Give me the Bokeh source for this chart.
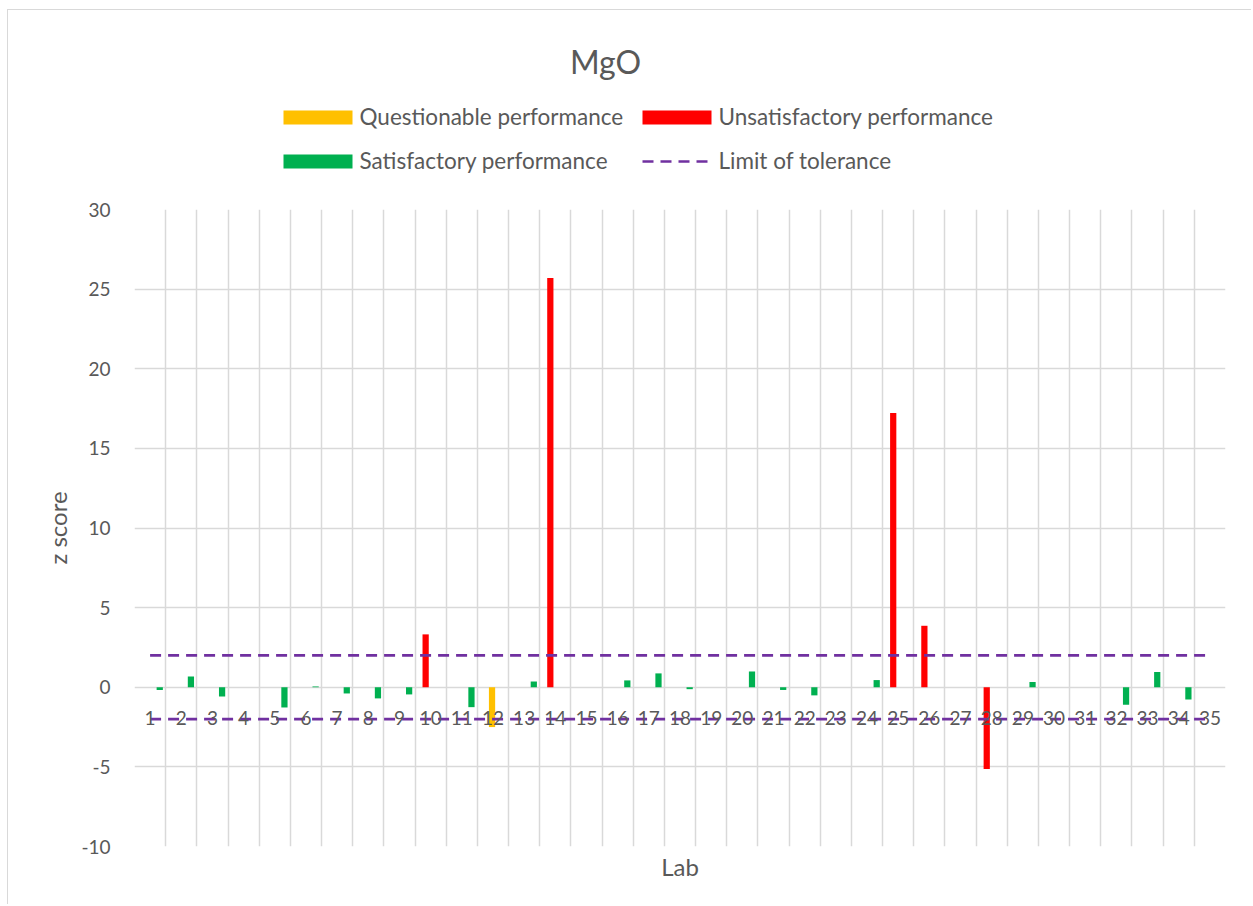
import math
from bokeh.plotting import figure
from bokeh.layouts import column
from bokeh.models import (FixedTicker, Title, ColumnDataSource, Label, Range1d)
from bokeh.core.properties import value
from bokeh.transform import dodge
from bokeh.embed import file_html
from bokeh.resources import INLINE

nan = float("nan")

chart_title = "MgO"
x_title = "Lab"
y_title = "z score"

labs = [str(i) for i in range(1, 36)]

satisfactory = [-0.17, 0.68, -0.58, nan, -1.27, 0.05, -0.39, -0.70, -0.45, nan,
                -1.25, nan, 0.36, nan, nan, 0.43, 0.87, -0.12, nan, 0.99,
                -0.17, -0.51, nan, 0.45, nan, nan, nan, nan, 0.33, nan,
                nan, -1.10, 0.95, -0.77, nan]
questionable = [nan, nan, nan, nan, nan, nan, nan, nan, nan, nan,
                nan, -2.50, nan, nan, nan, nan, nan, nan, nan, nan,
                nan, nan, nan, nan, nan, nan, nan, nan, nan, nan,
                nan, nan, nan, nan, nan]
unsatisfactory = [nan, nan, nan, nan, nan, nan, nan, nan, nan, 3.32,
                  nan, nan, nan, 25.70, nan, nan, nan, nan, nan, nan,
                  nan, nan, nan, nan, 17.22, 3.86, nan, -5.14, nan, nan,
                  nan, nan, nan, nan, nan]
tolerance_limits = [2, -2]
y_ticks = [-10, -5, 0, 5, 10, 15, 20, 25, 30]

series_names = ["Questionable performance", "Unsatisfactory performance",
                "Satisfactory performance", "Limit of tolerance"]
series_colors = ["#FFC000", "#FF0000", "#00B050", "#7030A0"]

FONT = "Lato"
TXT = "#595959"
GRID = "#D9D9D9"
WIDTH = 1244
HEAD_H = 185
MAIN_H = 710
DASH = "11 7"
LINE_W = 2.7

# layout of the legend (page pixels): two columns, two rows
LEG_COL_X = [283, 642]
LEG_ROW_Y = [117, 161]
SW_W, SW_H, LBL_GAP = 69, 14, 7
TITLE_POS = (605, 61)

# ---------------- header: title + legend ----------------
# frames of the stacked figures are aligned, so header frame spans page x 134..1225
h = figure(width=WIDTH, height=HEAD_H, output_backend="svg", toolbar_location=None,
           x_range=Range1d(134, 1225), y_range=Range1d(10 + HEAD_H, 10),
           x_axis_type=None, y_axis_type=None,
           min_border_left=0, min_border_right=0, min_border_top=0, min_border_bottom=0)
h.grid.visible = False
h.outline_line_color = None
h.background_fill_color = "white"
h.border_fill_color = "white"
h.styles = {"margin-left": "7px", "margin-top": "9px",
            "border-left": "1px solid #D9D9D9", "border-top": "1px solid #D9D9D9"}

h.add_layout(Label(x=TITLE_POS[0], y=TITLE_POS[1], text=chart_title, text_align="center",
                   text_baseline="middle", text_font=FONT, text_font_size="32px",
                   text_color=TXT))

cells = [(0, 0), (1, 0), (0, 1), (1, 1)]  # (col, row) for each series
leg_x = [LEG_COL_X[c] for c, r in cells]
leg_y = [LEG_ROW_Y[r] for c, r in cells]
leg = ColumnDataSource(dict(
    left=leg_x[:3], right=[x + SW_W for x in leg_x[:3]],
    top=[y - SW_H / 2 for y in leg_y[:3]], bottom=[y + SW_H / 2 for y in leg_y[:3]],
    color=series_colors[:3]))
h.quad(left="left", right="right", top="top", bottom="bottom", source=leg,
       fill_color="color", line_color=None)
h.line(x=[leg_x[3], leg_x[3] + SW_W], y=[leg_y[3], leg_y[3]], line_color=series_colors[3],
       line_width=LINE_W, line_dash=DASH)
h.text(x=[x + SW_W + LBL_GAP for x in leg_x], y=leg_y, text=series_names,
       y_offset=-1, text_align="left", text_baseline="middle", text_font=value(FONT),
       text_font_size="22.5px", text_color=TXT)

# ---------------- main chart ----------------
xpos = [i + 1 for i in range(len(labs))]
src = ColumnDataSource(dict(x=xpos, lab=labs, q=questionable, u=unsatisfactory,
                            s=satisfactory, zero=[0] * len(labs)))

p = figure(width=WIDTH, height=MAIN_H, output_backend="svg", toolbar_location=None,
           x_range=(0.5, len(labs) + 0.5), y_range=(y_ticks[0], y_ticks[-1]),
           min_border_left=126, min_border_right=27, min_border_top=15,
           min_border_bottom=58)
p.title_location = None
p.outline_line_color = None
p.background_fill_color = "white"
p.border_fill_color = "white"
p.styles = {"margin-left": "7px", "border-left": "1px solid #D9D9D9"}

p.xaxis.visible = False
p.xgrid.ticker = FixedTicker(ticks=[i + 0.5 for i in range(len(labs) + 1)])

p.yaxis.ticker = FixedTicker(ticks=y_ticks)
p.yaxis.major_label_overrides = {t: str(t) for t in y_ticks}
p.yaxis.major_tick_line_color = None
p.yaxis.minor_tick_line_color = None
p.yaxis.axis_line_color = None
p.yaxis.major_label_standoff = 18
p.yaxis.major_label_text_font = FONT
p.yaxis.major_label_text_font_size = "19px"
p.yaxis.major_label_text_color = TXT
p.yaxis.axis_label = y_title
p.yaxis.axis_label_text_font = FONT
p.yaxis.axis_label_text_font_style = "normal"
p.yaxis.axis_label_text_font_size = "24px"
p.yaxis.axis_label_text_color = TXT
p.yaxis.axis_label_standoff = 6

p.xgrid.grid_line_color = GRID
p.xgrid.grid_line_width = 1.5
p.ygrid.grid_line_color = GRID
p.ygrid.grid_line_width = 1.5

W = 0.2
p.vbar(x=dodge("x", -0.03, range=p.x_range), top="q", bottom="zero", width=W,
       source=src, fill_color=series_colors[0], line_color=None)
p.vbar(x=dodge("x", -0.16, range=p.x_range), top="u", bottom="zero", width=W,
       source=src, fill_color=series_colors[1], line_color=None)
p.vbar(x=dodge("x", 0.31, range=p.x_range), top="s", bottom="zero", width=W,
       source=src, fill_color=series_colors[2], line_color=None)

for lim in tolerance_limits:
    p.line(x=[xpos[0], xpos[-1]], y=[lim, lim], line_color=series_colors[3],
           line_width=LINE_W, line_dash=DASH)

p.text(x="x", y="zero", text="lab", source=src, y_offset=31,
       text_align="center", text_baseline="middle", text_font=value(FONT),
       text_font_size="19px", text_color=TXT)

p.add_layout(Title(text=x_title, align="center", standoff=6,
                   text_font=FONT, text_font_size="24px", text_font_style="normal",
                   text_color=TXT), "below")

layout = column(h, p, spacing=0)
open("out.html", "w").write(file_html(layout, INLINE))
